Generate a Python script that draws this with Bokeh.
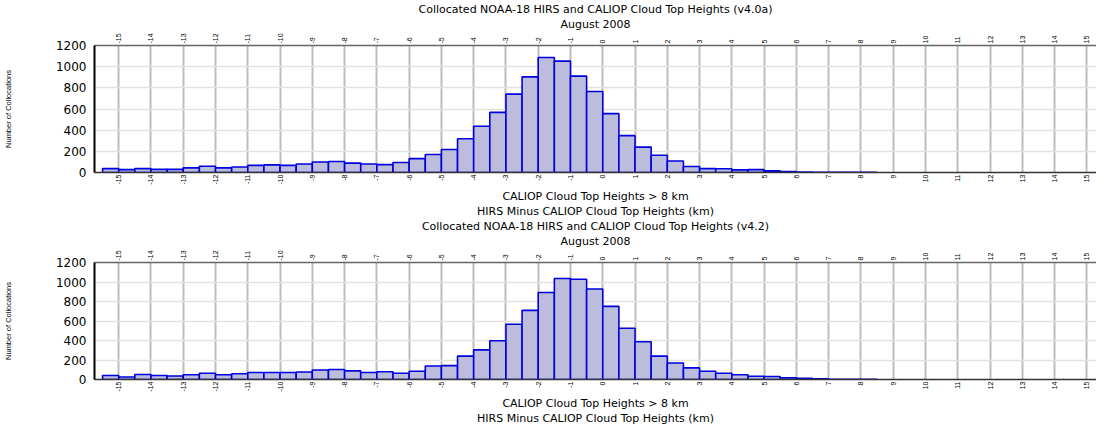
import math
from bokeh.plotting import figure
from bokeh.models import LinearAxis, FixedTicker, Range1d, Title, ColumnDataSource
from bokeh.layouts import column
from bokeh.embed import file_html
from bokeh.resources import INLINE

# ---- data -------------------------------------------------------------
bin_lefts = [round(-15.5 + 0.5 * i, 2) for i in range(48)]
bin_rights = [b + 0.5 for b in bin_lefts]

counts_v40a = [37, 27, 37, 30, 30, 44, 59, 44, 52, 67, 72, 67, 81, 99, 104, 89,
               81, 74, 94, 131, 170, 217, 319, 437, 568, 741, 904, 1086, 1052,
               911, 765, 556, 348, 240, 163, 109, 57, 37, 35, 25, 27, 15, 10, 5,
               2, 2, 1, 1]
counts_v42 = [41, 26, 52, 41, 36, 49, 64, 49, 59, 72, 72, 72, 77, 98, 103, 88,
              72, 80, 64, 85, 139, 142, 240, 304, 397, 567, 709, 892, 1036,
              1028, 928, 750, 526, 387, 240, 170, 119, 85, 64, 49, 34, 31, 18,
              13, 8, 3, 2, 1]

x_ticks = list(range(-15, 16))
x_tick_labels = ["-15", "-14", "-13", "-12", "-11", "-10", "-9", "-8", "-7",
                 "-6", "-5", "-4", "-3", "-2", "-1", "0", "1", "2", "3", "4",
                 "5", "6", "7", "8", "9", "10", "11", "12", "13", "14", "15"]
y_ticks = [0, 200, 400, 600, 800, 1000, 1200]

titles = ["Collocated NOAA-18 HIRS and CALIOP Cloud Top Heights (v4.0a)",
          "Collocated NOAA-18 HIRS and CALIOP Cloud Top Heights (v4.2)"]
subtitle = "August 2008"
x_label_lines = ["CALIOP Cloud Top Heights > 8 km",
                 "HIRS Minus CALIOP Cloud Top Heights (km)"]
y_label = "Number of Collocations"

# ---- style ------------------------------------------------------------
WIDE = "DejaVu Sans"
NARROW = "Liberation Sans"
FILL = "#bcbcdc"
EDGE = "#0000e0"
TXT = "11px"
overrides = {t: s for t, s in zip(x_ticks, x_tick_labels)}


def text_title(text):
    return Title(text=text, align="center", text_font=WIDE, text_font_size=TXT,
                 text_font_style="normal", text_color="black",
                 vertical_align="bottom", text_line_height=1.0,
                 standoff=0, offset=0)


def style_x_axis(ax, line_color):
    ax.ticker = FixedTicker(ticks=x_ticks)
    ax.major_label_overrides = overrides
    ax.major_label_orientation = math.pi / 2
    ax.major_label_text_font = NARROW
    ax.major_label_text_font_size = "7px"
    ax.major_label_text_color = "black"
    ax.major_label_standoff = 2
    ax.major_tick_out = 0
    ax.major_tick_in = 0
    ax.minor_tick_out = 0
    ax.minor_tick_in = 0
    ax.axis_label_standoff = 0
    ax.axis_line_color = line_color
    ax.axis_line_width = 1.5


def make_panel(counts, title, height):
    src = ColumnDataSource(dict(left=bin_lefts, right=bin_rights, top=counts,
                                bottom=[0] * len(counts)))
    p = figure(width=1096, height=height, x_range=Range1d(-15.75, 15.30),
               y_range=Range1d(0, 1200), output_backend="svg",
               toolbar_location=None, x_axis_location="below",
               min_border_left=89, min_border_right=0, min_border_top=2,
               min_border_bottom=2)
    p.outline_line_color = None
    p.background_fill_color = "white"

    # grids
    p.xgrid.ticker = FixedTicker(ticks=x_ticks)
    p.xgrid.grid_line_color = "#bdbdbd"
    p.xgrid.grid_line_width = 2
    p.ygrid.ticker = FixedTicker(ticks=y_ticks)
    p.ygrid.grid_line_color = "#e2e2e2"
    p.ygrid.grid_line_width = 1.5

    p.quad(left="left", right="right", top="top", bottom="bottom", source=src,
           fill_color=FILL, line_color=EDGE, line_width=1.6)

    style_x_axis(p.xaxis[0], "#333333")
    ta = LinearAxis()
    style_x_axis(ta, "#666666")
    p.add_layout(ta, "above")

    # left axis
    ya = p.yaxis[0]
    ya.ticker = FixedTicker(ticks=y_ticks)
    ya.major_label_text_font = WIDE
    ya.major_label_text_font_size = "12px"
    ya.major_label_text_color = "black"
    ya.major_label_standoff = 8
    ya.major_tick_out = 0
    ya.major_tick_in = 0
    ya.minor_tick_out = 0
    ya.minor_tick_in = 0
    ya.axis_line_color = "black"
    ya.axis_line_width = 2
    ya.axis_label = y_label
    ya.axis_label_text_font = NARROW
    ya.axis_label_text_font_size = "7.5px"
    ya.axis_label_text_font_style = "normal"
    ya.axis_label_text_color = "black"
    ya.axis_label_standoff = 40

    # title lines above (first added sits nearest the frame)
    p.add_layout(text_title(subtitle), "above")
    p.add_layout(text_title(title), "above")
    # x-axis label lines below
    for line in x_label_lines:
        p.add_layout(text_title(line), "below")
    return p


p1 = make_panel(counts_v40a, titles[0], 217)
p2 = make_panel(counts_v42, titles[1], 207)
layout = column(p1, p2, spacing=0)

open("out.html", "w").write(file_html(layout, INLINE))
